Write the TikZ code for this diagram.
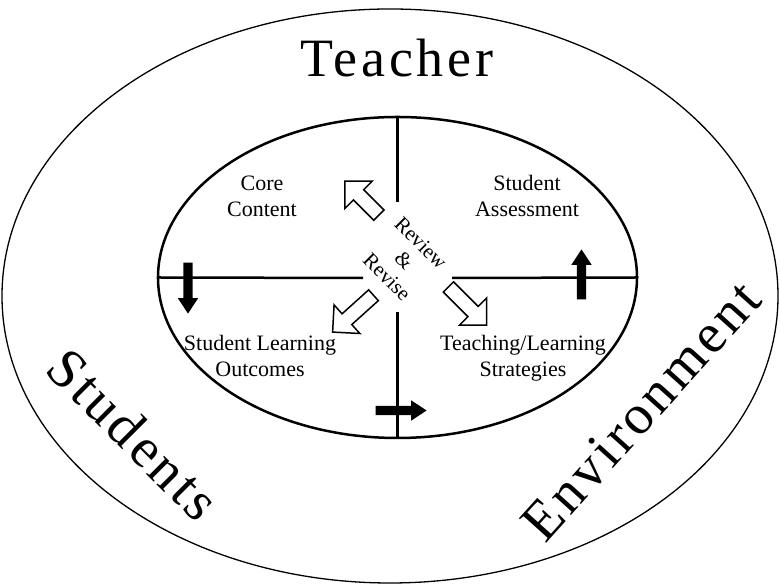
\documentclass[tikz,border=0pt]{standalone}
\usepackage{fontspec}
\setmainfont{Liberation Serif}
\usetikzlibrary{shapes.geometric,shapes.arrows}
\tikzstyle{ring}=[
        draw,
        ellipse,
        inner sep = 0pt
    ]
\tikzstyle{quad text}=[
        align = center,
        font = \fontsize{22}{26}\selectfont
    ]
\tikzstyle{big word}=[
        inner sep = 0pt,
        font = \fontsize{56}{60}\selectfont\addfontfeature{LetterSpace=6}
    ]
\tikzstyle{solid arrow}=[
        single arrow,
        fill = black,
        inner xsep = 0pt,
        inner ysep = 4.5pt,
        single arrow head extend = 5.5pt,
        single arrow tip angle = 67
    ]
\tikzstyle{open arrow}=[
        single arrow,
        draw = black,
        fill = white,
        line width = 1.5pt,
        inner xsep = 0pt,
        inner ysep = 6.5pt,
        single arrow head extend = 12pt,
        single arrow tip angle = 90
    ]

\begin{document}
\begin{tikzpicture}[x=1pt, y=1pt]
        \useasboundingbox (0,0) rectangle (780,585);
        \node[ring, line width=1.3pt, minimum width=776pt, minimum height=574pt] (O) at (390,289) {};
        \node[ring, line width=2.5pt, minimum width=479pt, minimum height=321pt] (I) at (397.5,307.5) {};

        \coordinate (VT) at (397.5,383);
        \coordinate (VB) at (397.5,273);
        \coordinate (HL) at (363,307);
        \coordinate (HR) at (452,307);
        \draw[line width=2.5pt] (I.north) -- (VT);
        \draw[line width=2.5pt] (VB) -- (I.south);
        \draw[line width=2.5pt] (I.west) -- (HL);
        \draw[line width=2.5pt] (HR) -- (I.east);

        \node[anchor=base, inner sep=0pt, font=\fontsize{54}{60}\selectfont\addfontfeature{LetterSpace=7}] (T) at (397,508) {Teacher};
        \node[big word, rotate=-45] (S) at (134,151) {Students};
        \node[big word, rotate=48] (E) at (641,174) {Environment};

        \node[quad text] (C) at (262,389) {Core\\Content};
        \node[quad text] (A) at (527,389) {Student\\Assessment};
        \node[quad text] (L) at (260,229) {Student Learning\\Outcomes};
        \node[quad text] (G) at (523,227) {Teaching/Learning\\Strategies};
        \node[align=center, rotate=-45, font=\fontsize{21}{24}\selectfont] (R) at (404,325) {Review\\\&\\Revise};

        \node[solid arrow, minimum height=51pt, rotate=-90] (D1) at (188,300.5) {};
        \node[solid arrow, minimum height=50pt, rotate=90] (U1) at (581.5,307) {};
        \node[solid arrow, minimum height=51pt] (R1) at (397.5,174.5) {};

        \node[open arrow, minimum height=48pt, rotate=135] (NW) at (364.5,384.25) {};
        \node[open arrow, minimum height=55pt, rotate=222] (SW) at (355.75,273.75) {};
        \node[open arrow, minimum height=54pt, rotate=-45] (SE) at (465,281.5) {};
    \end{tikzpicture}
\end{document}
